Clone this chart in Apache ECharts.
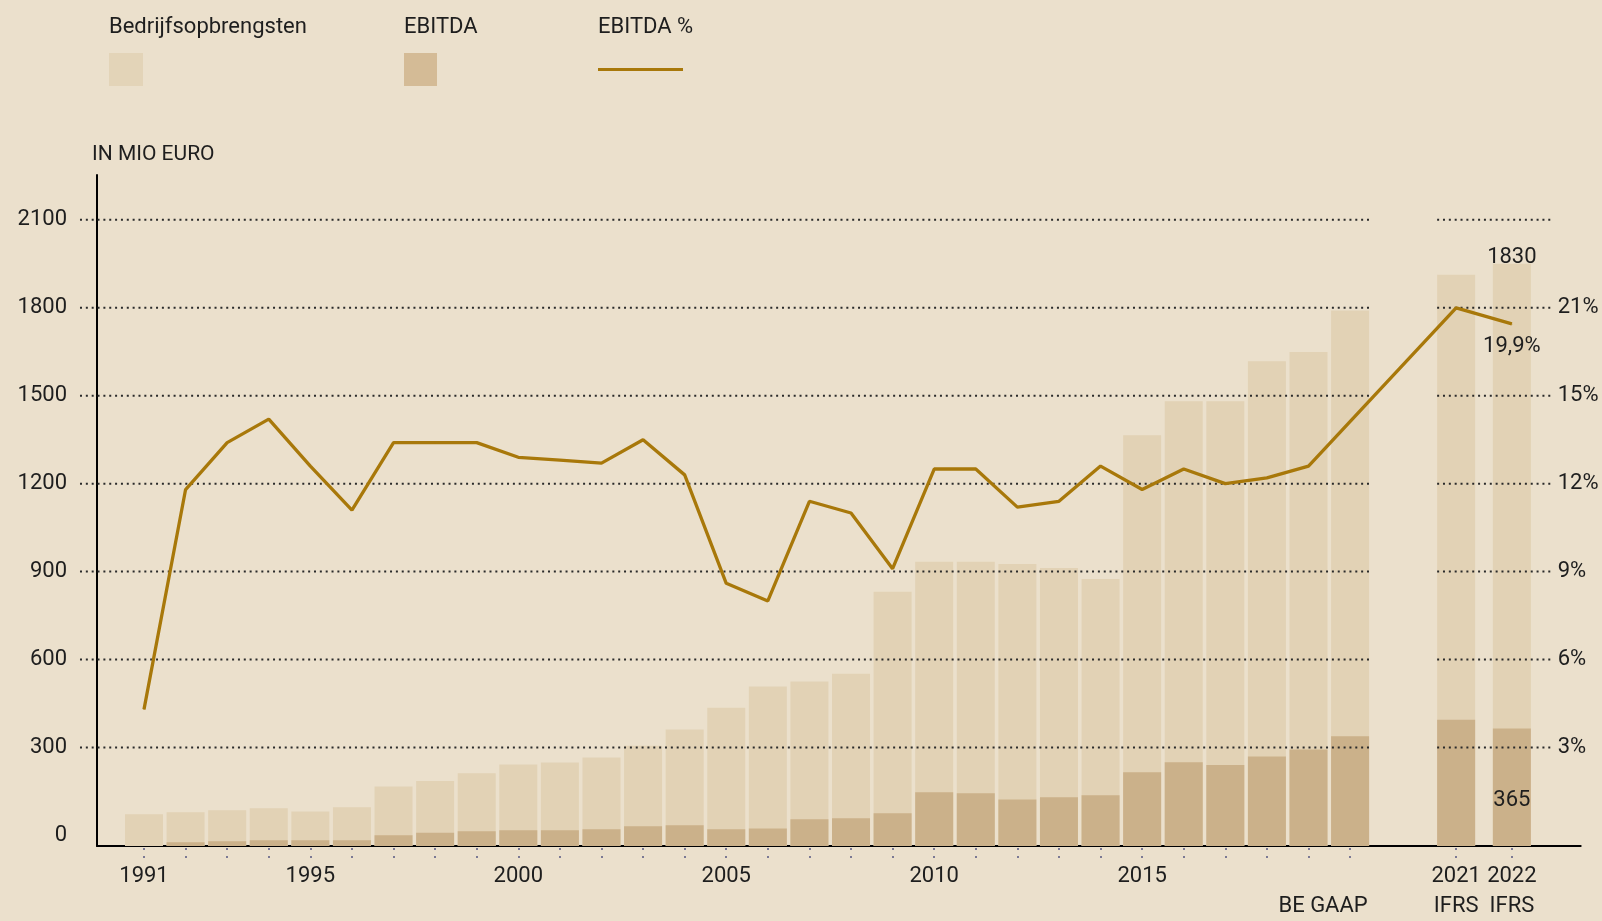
<!DOCTYPE html>
<html>
<head>
<meta charset="utf-8">
<script src="https://cdn.jsdelivr.net/npm/echarts@6/dist/echarts.min.js"></script>
<style>
html,body{margin:0;padding:0;background:#EBE0CC;}
#chart{width:1602px;height:921px;}
</style>
</head>
<body>
<div id="chart"></div>
<script>
// ---------------- DATA ----------------
const years = [1991,1992,1993,1994,1995,1996,1997,1998,1999,2000,
               2001,2002,2003,2004,2005,2006,2007,2008,2009,2010,
               2011,2012,2013,2014,2015,2016,2017,2018,2019,2020,
               2021,2022];
const revenue = [72,79,86,93,82,96,167,186,212,242,
                 249,266,306,361,436,508,525,552,831,934,
                 934,926,912,875,1365,1481,1481,1618,1649,1791,
                 1913,1950];
const ebitda = [null,-23,-20,-16,-16,-16,1,9,14,18,
                18,21,31,35,21,24,55,59,76,147,
                144,123,130,137,216,250,240,269,293,338,
                395,365];
const ebitdaPct = [4.3,11.8,13.4,14.2,12.6,11.1,13.4,13.4,13.4,12.9,
                   12.8,12.7,13.5,12.3,8.6,8.0,11.4,11.0,9.1,12.5,
                   12.5,11.2,11.4,12.6,11.8,12.5,12.0,12.2,12.6,null,
                   21.0,19.9];
const leftTicks = [0,300,600,900,1200,1500,1800,2100];
const gridLevels = [300,600,900,1200,1500,1800,2100];
const rightTicks = [3,6,9,12,15,21];
const labelYears = [1991,1995,2000,2005,2010,2015,2021,2022];
const standardYears = [2020,2021,2022];
const standardNames = ['BE GAAP','IFRS','IFRS'];
const revenueNoteYear = 2022;
const revenueNote = '1830';
const seriesNames = ['Bedrijfsopbrengsten','EBITDA','EBITDA %'];

// ---------------- LAYOUT ----------------
const GAP_SLOTS = 2.55;     // distance 2020 -> 2021 in year slots
const IFRS_STEP = 1.34;     // distance 2021 -> 2022
function slot(y){ return y <= 2020 ? y - 1991 : (2020 - 1991) + GAP_SLOTS + (y - 2021) * IFRS_STEP; }
const X_MIN = -1.13, X_MAX = 34.545;
const Y_MIN = -36, Y_MAX = 2253;
const BAR_HALF = 0.457;
const GRID_SEGS = [[-1.539, slot(2020) + BAR_HALF], [slot(2021) - BAR_HALF, 33.854]];
// broken percentage axis above 15%
function pctToAxis(p){ return p <= 15 ? p : 15 + (p - 15) / 2; }
function axisToPct(v){ return v <= 15 ? v : 15 + (v - 15) * 2; }

const FONT = 'Roboto, "Noto Sans", sans-serif';
const TXT = '#1e1e1e';
const C_REV = '#E2D2B5', C_EB = '#CBB18A', C_LINE = '#A8780A', BG = '#EBE0CC';

const lastIdx = years.length - 1;

const revData = years.map((y, i) => {
  const item = { value: [slot(y), revenue[i]] };
  if (y === revenueNoteYear) {
    item.label = { show: true, position: 'top', distance: -5, formatter: revenueNote,
                   fontSize: 22, fontFamily: FONT, color: TXT };
  }
  return item;
});
const ebData = years.map((y, i) => {
  const item = { value: [slot(y), ebitda[i] == null ? '-' : ebitda[i]] };
  if (i === lastIdx) {
    item.label = { show: true, position: 'insideBottom', distance: 35,
                   formatter: p => String(p.value[1]), fontSize: 22, fontFamily: FONT, color: TXT };
  }
  return item;
});
const pctData = years.map((y, i) => {
  const item = { value: [slot(y), ebitdaPct[i] == null ? '-' : pctToAxis(ebitdaPct[i])] };
  if (i === lastIdx) {
    item.label = { show: true, position: 'bottom', distance: 11,
                   formatter: p => axisToPct(p.value[1]).toFixed(1).replace('.', ',') + '%',
                   fontSize: 22, fontFamily: FONT, color: TXT };
  }
  return item;
});

const labelSlots = labelYears.concat(standardYears.filter(y => labelYears.indexOf(y) < 0)).map(slot);

function yearOfSlot(v){
  let best = null, bd = 1e9;
  years.forEach(y => { const d = Math.abs(slot(y) - v); if (d < bd) { bd = d; best = y; } });
  return best;
}

const chart = echarts.init(document.getElementById('chart'));
chart.setOption({
  backgroundColor: BG,
  animation: false,
  textStyle: { fontFamily: FONT },
  grid: { left: 97, right: 21.3, top: 175, bottom: 73, containLabel: false },
  legend: [
    { data: [{ name: seriesNames[0], itemStyle: { color: '#E3D4B8' } }], left: 109, top: 53,
      icon: 'rect', itemWidth: 34, itemHeight: 33, selectedMode: false, formatter: () => '', padding: 0 },
    { data: [{ name: seriesNames[1], itemStyle: { color: '#D4BB96' } }], left: 404, top: 53,
      icon: 'rect', itemWidth: 33, itemHeight: 33, selectedMode: false, formatter: () => '', padding: 0 },
    { data: [{ name: seriesNames[2] }], left: 598, top: 68,
      icon: 'rect', itemWidth: 85, itemHeight: 3, selectedMode: false, formatter: () => '', padding: 0 }
  ],
  graphic: [
    { type: 'text', x: 109, y: 27, style: { text: seriesNames[0], font: '22px ' + FONT, fill: TXT, textVerticalAlign: 'middle', verticalAlign: 'middle' } },
    { type: 'text', x: 404, y: 27, style: { text: seriesNames[1], font: '22px ' + FONT, fill: TXT, textVerticalAlign: 'middle', verticalAlign: 'middle' } },
    { type: 'text', x: 598, y: 27, style: { text: seriesNames[2], font: '22px ' + FONT, fill: TXT, textVerticalAlign: 'middle', verticalAlign: 'middle' } },
    { type: 'text', x: 92, y: 155, style: { text: 'IN MIO EURO', font: '21px ' + FONT, fill: TXT, textVerticalAlign: 'middle', verticalAlign: 'middle' } }
  ],
  xAxis: {
    type: 'value', min: X_MIN, max: X_MAX,
    axisLine: { show: true, onZero: false, lineStyle: { color: '#000', width: 2 } },
    splitLine: { show: false },
    axisTick: { show: true, customValues: years.map(slot), length: 12,
                lineStyle: { color: '#7b7994', width: 2, type: [2, 6], dashOffset: 6 } },
    axisLabel: {
      customValues: labelSlots, margin: 15, fontSize: 22, lineHeight: 30, color: TXT, fontFamily: FONT,
      hideOverlap: false,
      formatter: v => {
        const y = yearOfSlot(v);
        const top = labelYears.indexOf(y) >= 0 ? String(y) : '';
        const si = standardYears.indexOf(y);
        if (si < 0) return top;
        if (top === '') return '\n{g|' + standardNames[si] + '}';
        return top + '\n' + standardNames[si];
      },
      rich: { g: { fontSize: 22, lineHeight: 30, color: TXT, fontFamily: FONT, padding: [0, 54, 0, 0] } }
    }
  },
  yAxis: [
    {
      type: 'value', min: Y_MIN, max: Y_MAX, startValue: Y_MIN,
      axisLine: { show: true, onZero: false, lineStyle: { color: '#000', width: 2 } },
      axisTick: { show: false }, splitLine: { show: false },
      axisLabel: { customValues: leftTicks, margin: 30, fontSize: 22, color: TXT, fontFamily: FONT,
                   formatter: v => String(Math.round(v)) }
    },
    {
      type: 'value', position: 'right', min: Y_MIN / 100, max: Y_MAX / 100, offset: -24,
      axisLine: { show: false }, axisTick: { show: false }, splitLine: { show: false },
      axisLabel: { customValues: rightTicks.map(pctToAxis), margin: 1, fontSize: 22, color: TXT, fontFamily: FONT,
                   formatter: v => Math.round(axisToPct(v)) + '%' }
    }
  ],
  series: [
    { name: seriesNames[0], type: 'bar', data: revData, barWidth: 38, barGap: '-100%',
      itemStyle: { color: C_REV }, z: 2, silent: true },
    { name: seriesNames[1], type: 'bar', data: ebData, barWidth: 38, barGap: '-100%',
      itemStyle: { color: C_EB }, z: 2, silent: true },
    { name: 'grid', type: 'custom', silent: true, z: 3,
      data: gridLevels.map(v => [0, v]),
      renderItem: (params, api) => {
        const v = api.value(1);
        return { type: 'group', children: GRID_SEGS.map(s => {
          const a = api.coord([s[0], v]), b = api.coord([s[1], v]);
          return { type: 'line', shape: { x1: a[0], y1: a[1], x2: b[0], y2: b[1] },
                   style: { stroke: '#2a2a2a', lineWidth: 2, lineDash: [2, 3.85] } };
        }) };
      } },
    { name: seriesNames[2], type: 'line', yAxisIndex: 1, data: pctData, connectNulls: true,
      symbol: 'circle', symbolSize: 1, itemStyle: { color: C_LINE },
      lineStyle: { color: C_LINE, width: 3.3 }, z: 4, silent: true }
  ]
});
</script>
</body>
</html>
